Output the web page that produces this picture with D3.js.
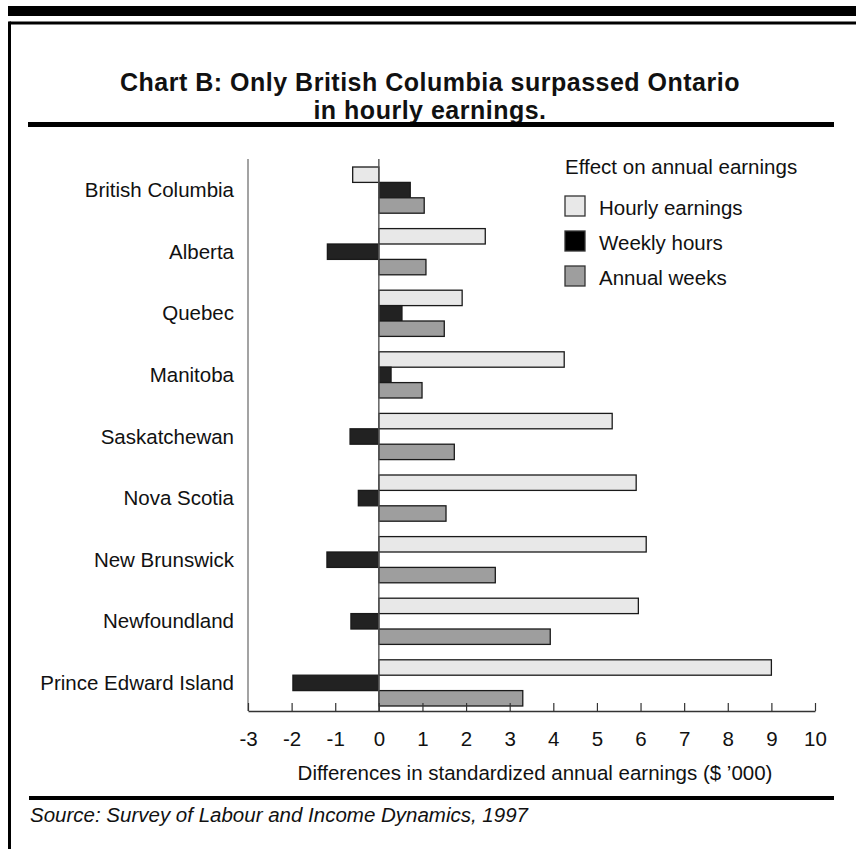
<!DOCTYPE html>
<html>
<head>
    <title>Chart B</title>
    <script src="https://cdnjs.cloudflare.com/ajax/libs/d3/7.8.5/d3.min.js"></script>
    <style>
        body { margin: 0; padding: 0; background: white; }
        svg { display: block; font-family: "Liberation Sans", Arial, Helvetica, sans-serif; }
    </style>
</head>
<body>
    <svg id="chart" width="856" height="849"></svg>
    <script>
        // Data ($ '000, difference from Ontario)
        const provinces = ['British Columbia', 'Alberta', 'Quebec', 'Manitoba', 'Saskatchewan',
            'Nova Scotia', 'New Brunswick', 'Newfoundland', 'Prince Edward Island'];
        const hourlyEarnings = [-0.6, 2.44, 1.91, 4.25, 5.35, 5.9, 6.13, 5.95, 9.0];
        const weeklyHours = [0.72, -1.18, 0.53, 0.28, -0.66, -0.47, -1.19, -0.64, -1.97];
        const annualWeeks = [1.04, 1.08, 1.5, 0.99, 1.73, 1.54, 2.67, 3.93, 3.3];
        const seriesNames = ['Hourly earnings', 'Weekly hours', 'Annual weeks'];
        const xTicks = [-3, -2, -1, 0, 1, 2, 3, 4, 5, 6, 7, 8, 9, 10];

        const barFill = ['#e8e8e8', '#222222', '#9e9e9e'];
        const legendFill = ['#e8e8e8', '#000000', '#9e9e9e'];
        const fs = '20.5px';

        const svg = d3.select('#chart');

        // frame
        svg.append('rect').attr('x', 8).attr('y', 6).attr('width', 848).attr('height', 10).attr('fill', '#000');
        svg.append('line').attr('x1', 9.5).attr('x2', 856).attr('y1', 23).attr('y2', 23)
            .attr('stroke', '#000').attr('stroke-width', 3);
        svg.append('line').attr('x1', 9.5).attr('x2', 9.5).attr('y1', 21.5).attr('y2', 849)
            .attr('stroke', '#000').attr('stroke-width', 3);

        // title
        svg.append('text').attr('x', 430).attr('y', 91).attr('text-anchor', 'middle')
            .attr('font-size', '25px').attr('font-weight', 'bold').attr('letter-spacing', '0.5px')
            .attr('fill', '#111').text('Chart B: Only British Columbia surpassed Ontario');
        svg.append('text').attr('x', 430).attr('y', 119).attr('text-anchor', 'middle')
            .attr('font-size', '25px').attr('font-weight', 'bold').attr('letter-spacing', '0.5px')
            .attr('fill', '#111').text('in hourly earnings.');
        svg.append('rect').attr('x', 28).attr('y', 122).attr('width', 806).attr('height', 5).attr('fill', '#000');

        // scales
        const x = d3.scaleLinear().domain([-3, 10]).range([248, 815]);
        const y = d3.scaleBand().domain(provinces).range([167, 706]).paddingInner(0.25).paddingOuter(0);
        const ySub = d3.scaleBand().domain(seriesNames).range([0, y.bandwidth()]);

        const rows = provinces.map((p, i) => ({
            province: p,
            values: [hourlyEarnings[i], weeklyHours[i], annualWeeks[i]]
        }));

        const axisBottom = 711;

        // y axis line
        svg.append('line').attr('x1', x(-3)).attr('x2', x(-3)).attr('y1', 159).attr('y2', axisBottom)
            .attr('stroke', '#666').attr('stroke-width', 1.2);

        // bars
        const groups = svg.append('g').selectAll('g').data(rows).join('g')
            .attr('transform', d => `translate(0,${y(d.province)})`);
        groups.selectAll('rect')
            .data(d => d.values.map((v, k) => ({ v, k })))
            .join('rect')
            .attr('x', d => x(Math.min(0, d.v)))
            .attr('width', d => Math.abs(x(d.v) - x(0)))
            .attr('y', d => ySub(seriesNames[d.k]))
            .attr('height', ySub.bandwidth())
            .attr('fill', d => barFill[d.k])
            .attr('stroke', '#1a1a1a')
            .attr('stroke-width', 1.3);

        // zero line
        svg.append('line').attr('x1', x(0)).attr('x2', x(0)).attr('y1', 159).attr('y2', axisBottom)
            .attr('stroke', '#555').attr('stroke-width', 1.4);

        // category labels
        svg.append('g').selectAll('text').data(provinces).join('text')
            .attr('x', 234)
            .attr('y', d => y(d) + y.bandwidth() / 2)
            .attr('dy', '0.35em')
            .attr('text-anchor', 'end')
            .attr('font-size', fs)
            .attr('fill', '#111')
            .text(d => d);

        // x axis
        const xAxis = svg.append('g').attr('transform', `translate(0,${axisBottom})`)
            .call(d3.axisBottom(x).tickValues(xTicks).tickSize(-8).tickSizeOuter(0).tickPadding(20)
                .tickFormat(d3.format('d')));
        xAxis.select('.domain').attr('stroke', '#333').attr('stroke-width', 1.4);
        xAxis.selectAll('.tick line').attr('stroke', '#333').attr('stroke-width', 1.2);
        xAxis.selectAll('.tick text').attr('font-size', fs).attr('fill', '#111')
            .attr('font-family', '"Liberation Sans", Arial, sans-serif').text(d => d < 0 ? '-' + Math.abs(d) : d);

        svg.append('text').attr('x', 535).attr('y', 780).attr('text-anchor', 'middle')
            .attr('font-size', fs).attr('fill', '#111')
            .text("Differences in standardized annual earnings ($ \u2019000)");

        // legend
        svg.append('text').attr('x', 565).attr('y', 167).attr('dy', '0.35em')
            .attr('font-size', fs).attr('fill', '#111').text('Effect on annual earnings');
        const legend = svg.append('g').selectAll('g').data(seriesNames).join('g')
            .attr('transform', (d, i) => `translate(565,${196 + i * 35})`);
        legend.append('rect').attr('width', 20).attr('height', 20)
            .attr('fill', (d, i) => legendFill[i]).attr('stroke', '#333').attr('stroke-width', 1.3);
        legend.append('text').attr('x', 34).attr('y', 12).attr('dy', '0.35em')
            .attr('font-size', fs).attr('fill', '#111').text(d => d);

        // source
        svg.append('rect').attr('x', 29).attr('y', 796).attr('width', 805).attr('height', 4).attr('fill', '#000');
        svg.append('text').attr('x', 30).attr('y', 822).attr('font-size', fs).attr('font-style', 'italic')
            .attr('fill', '#111').text('Source: Survey of Labour and Income Dynamics, 1997');
    </script>
</body>
</html>
